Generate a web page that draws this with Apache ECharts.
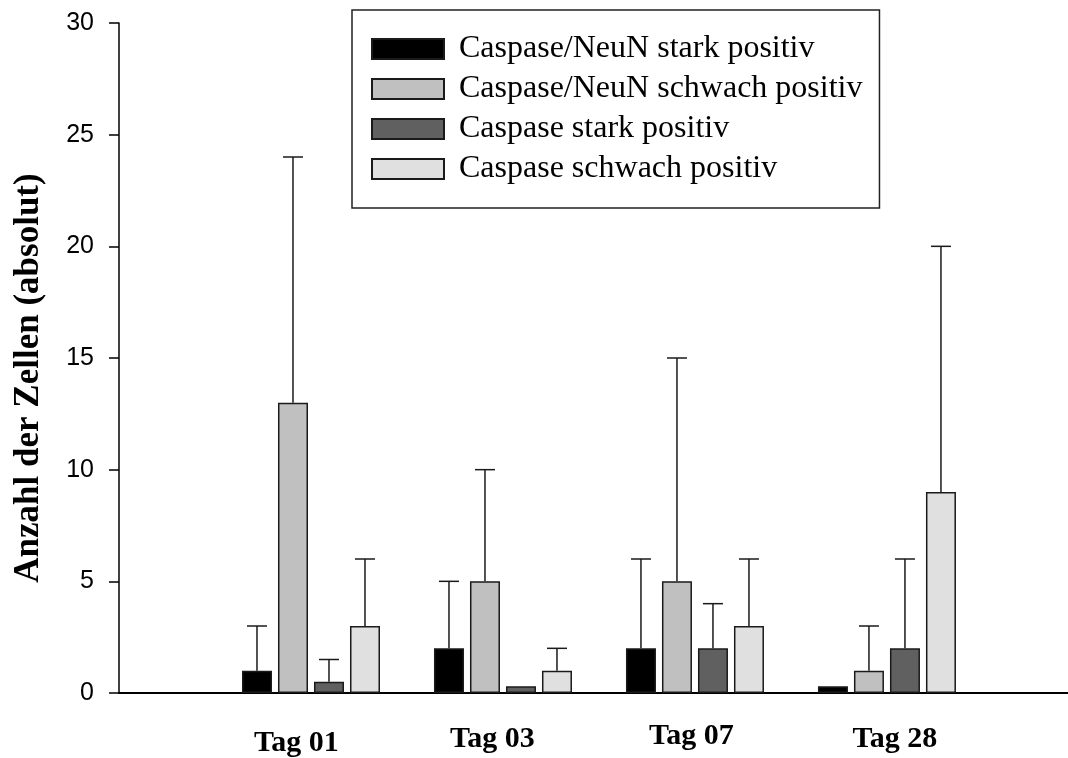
<!DOCTYPE html>
<html><head><meta charset="utf-8">
<script src="https://cdn.jsdelivr.net/npm/echarts@6/dist/echarts.min.js"></script>
<style>html,body{margin:0;padding:0;background:#fff}#c{width:1068px;height:758px}</style>
</head><body><div id="c"></div>
<script>
// ---- data ----
const categories = ['Tag 01', 'Tag 03', 'Tag 07', 'Tag 28'];
const seriesNames = ['Caspase/NeuN stark positiv', 'Caspase/NeuN schwach positiv', 'Caspase stark positiv', 'Caspase schwach positiv'];
const neunStark = [1, 2, 2, 0.3];
const neunStarkUpper = [3, 5, 6, null];
const neunSchwach = [13, 5, 5, 1];
const neunSchwachUpper = [24, 10, 15, 3];
const caspStark = [0.5, 0.3, 2, 2];
const caspStarkUpper = [1.5, null, 4, 6];
const caspSchwach = [3, 1, 3, 9];
const caspSchwachUpper = [6, 2, 6, 20];
const yMin = 0, yMax = 30, yStep = 5;

// ---- style ----
const colors = ['#000000', '#c0c0c0', '#606060', '#e0e0e0'];
const BAR_W = 30, BAR_GAP = 6, CAP_W = 20;
const values = [neunStark, neunSchwach, caspStark, caspSchwach];
const uppers = [neunStarkUpper, neunSchwachUpper, caspStarkUpper, caspSchwachUpper];
const labelPad = [[7, 29, 0, 0], [3, 21, 0, 0], [0, 7, 0, 0], [3, 0, 0, 16]];

const barSeries = seriesNames.map((name, k) => ({
  name, type: 'bar', barWidth: BAR_W, barGap: (BAR_GAP / BAR_W * 100) + '%',
  data: categories.map((c, i) => [i + 1, values[k][i]]),
  itemStyle: { color: colors[k], borderColor: '#1a1a1a', borderWidth: 1.5 },
  emphasis: { disabled: true }
}));

const errData = [];
uppers.forEach((arr, k) => arr.forEach((u, i) => {
  if (u !== null) errData.push([i + 1, values[k][i], u, k]);
}));

const errSeries = {
  type: 'custom', name: 'err', z: 5,
  dimensions: ['x', 'v', 'up', 'k'],
  encode: { x: 0, y: [1, 2] },
  data: errData,
  renderItem(params, api) {
    const x = api.value(0), v = api.value(1), up = api.value(2), k = api.value(3);
    const off = (k - 1.5) * (BAR_W + BAR_GAP);
    const p0 = api.coord([x, v]), p1 = api.coord([x, up]);
    const cx = p0[0] + off;
    const st = { stroke: '#1a1a1a', lineWidth: 1.5 };
    return { type: 'group', children: [
      { type: 'line', shape: { x1: cx, y1: p0[1], x2: cx, y2: p1[1] }, style: st },
      { type: 'line', shape: { x1: cx - CAP_W / 2, y1: p1[1], x2: cx + CAP_W / 2, y2: p1[1] }, style: st }
    ]};
  }
};

const rich = {};
labelPad.forEach((p, i) => {
  rich['t' + (i + 1)] = { fontFamily: 'Liberation Serif', fontWeight: 'bold', fontSize: 30, color: '#000', padding: p };
});

const option = {
  backgroundColor: '#fff',
  animation: false,
  grid: { left: 119, right: 0, top: 23, bottom: 63 },
  legend: {
    data: seriesNames, orient: 'vertical', left: 352, top: 10,
    padding: [19, 17, 19, 19], itemGap: 0, itemWidth: 72, itemHeight: 20, icon: 'rect',
    borderColor: '#222', borderWidth: 1.5, backgroundColor: '#fff', selectedMode: false,
    textStyle: { fontFamily: 'Liberation Serif', fontSize: 32, color: '#000', lineHeight: 40, padding: [0, 0, 0, 10] }
  },
  xAxis: {
    type: 'value', min: 0, max: 4.943, interval: 1,
    axisLine: { show: true, onZero: false, lineStyle: { color: '#000', width: 2 } },
    axisTick: { show: false }, splitLine: { show: false },
    axisLabel: {
      margin: 28, showMaxLabel: false,
      formatter: v => (Number.isInteger(v) && v >= 1 && v <= categories.length) ? '{t' + v + '|' + categories[v - 1] + '}' : '',
      rich
    }
  },
  yAxis: {
    type: 'value', min: yMin, max: yMax, interval: yStep,
    name: 'Anzahl der Zellen (absolut)', nameLocation: 'middle', nameGap: 73,
    nameTextStyle: { fontFamily: 'Liberation Serif', fontWeight: 'bold', fontSize: 35, color: '#000', padding: [0, 40, 0, 0] },
    axisLine: { show: true, lineStyle: { color: '#000', width: 1.5 } },
    axisTick: { show: true, length: 10, lineStyle: { color: '#000', width: 1.5 } },
    axisLabel: { margin: 25, fontFamily: 'Liberation Sans', fontSize: 25, color: '#000' },
    splitLine: { show: false }
  },
  series: [...barSeries, errSeries]
};
const chart = echarts.init(document.getElementById('c'), null, { renderer: 'canvas' });
chart.setOption(option);
</script>
</body></html>
